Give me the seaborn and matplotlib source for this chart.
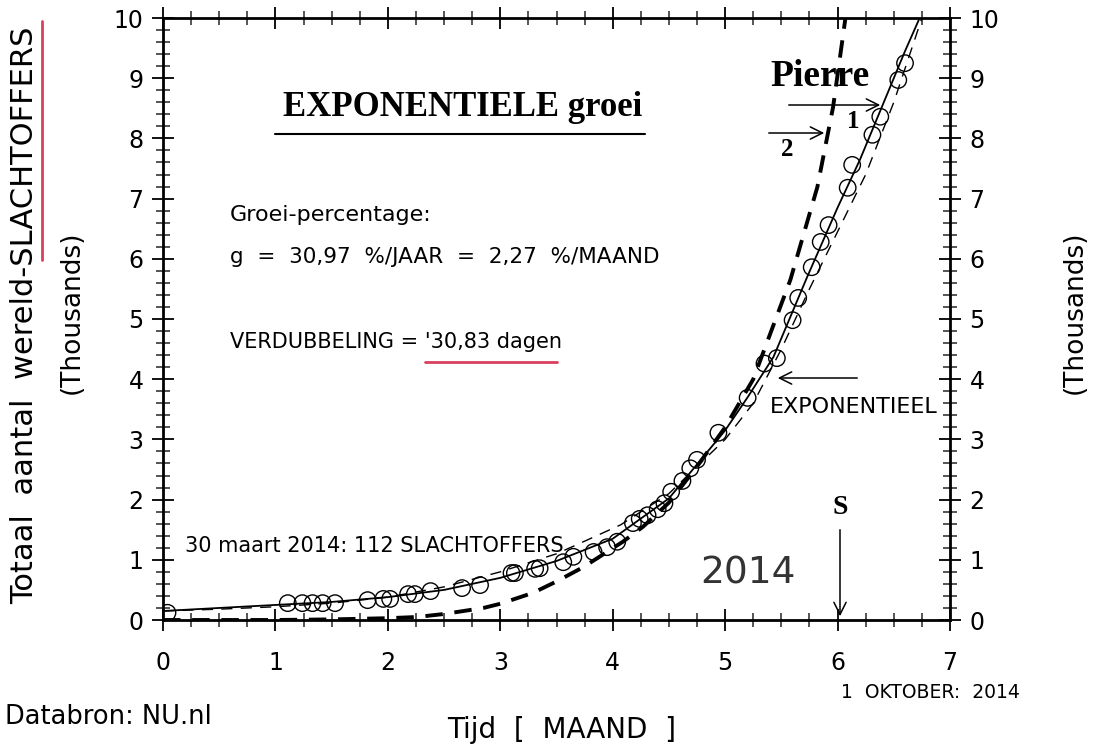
import numpy as np
import pandas as pd
import matplotlib
matplotlib.use("Agg")
import matplotlib.pyplot as plt
import seaborn as sns
from matplotlib.ticker import MultipleLocator

# ---------------- data ----------------
obs_month = [0.04, 1.11, 1.24, 1.33, 1.42, 1.53, 1.82, 1.96, 2.02, 2.18, 2.24, 2.38,
             2.66, 2.82, 3.10, 3.13, 3.31, 3.35, 3.56, 3.65, 3.83, 3.95, 4.04, 4.18,
             4.24, 4.31, 4.40, 4.46, 4.52, 4.62, 4.69, 4.75, 4.94, 5.20, 5.35, 5.46,
             5.60, 5.65, 5.77, 5.85, 5.92, 6.09, 6.13, 6.31, 6.38, 6.54, 6.60]
obs_victims = [0.12, 0.28, 0.28, 0.28, 0.28, 0.28, 0.33, 0.35, 0.35, 0.43, 0.43, 0.48,
               0.53, 0.58, 0.78, 0.78, 0.85, 0.86, 0.96, 1.05, 1.13, 1.21, 1.30, 1.61,
               1.68, 1.74, 1.84, 1.94, 2.13, 2.31, 2.52, 2.66, 3.11, 3.69, 4.26, 4.35,
               4.98, 5.35, 5.86, 6.28, 6.56, 7.18, 7.56, 8.06, 8.36, 8.97, 9.25]

fit_month = [0.0, 0.5, 1.0, 1.5, 2.0, 2.5, 3.0, 3.5, 4.0, 4.5, 5.0, 5.2, 5.43, 5.73,
             6.0, 6.2, 6.4, 6.6, 6.73]
fit_victims = [0.15, 0.20, 0.25, 0.30, 0.38, 0.50, 0.70, 0.98, 1.35, 2.02, 3.15, 3.70,
               4.37, 5.70, 6.85, 7.65, 8.55, 9.45, 10.0]

model1_month = [0.0, 0.5, 1.0, 1.5, 2.0, 2.5, 3.0, 3.5, 3.68, 4.07, 4.5, 5.0, 5.25,
                5.5, 5.75, 6.0, 6.25, 6.5, 6.75]
model1_victims = [0.15, 0.18, 0.22, 0.28, 0.38, 0.55, 0.80, 1.10, 1.25, 1.58, 2.10,
                  3.00, 3.60, 4.50, 5.50, 6.45, 7.40, 8.60, 10.0]

model2_month = [0.0, 0.5, 1.0, 1.5, 2.0, 2.26, 2.5, 2.85, 3.0, 3.29, 3.5, 3.74, 4.09,
                4.27, 4.5, 4.75, 5.0, 5.25, 5.58, 5.82, 5.96, 6.07]
model2_victims = [0.0, 0.0, 0.0, 0.01, 0.03, 0.05, 0.10, 0.20, 0.27, 0.45, 0.64, 0.88,
                  1.30, 1.55, 1.95, 2.55, 3.20, 4.00, 5.65, 7.19, 8.52, 10.0]

x_ticks = [0, 1, 2, 3, 4, 5, 6, 7]
y_ticks = [0, 1, 2, 3, 4, 5, 6, 7, 8, 9, 10]

obs = pd.DataFrame({"maand": obs_month, "slachtoffers": obs_victims})
fit = pd.DataFrame({"maand": fit_month, "slachtoffers": fit_victims})
m1 = pd.DataFrame({"maand": model1_month, "slachtoffers": model1_victims})
m2 = pd.DataFrame({"maand": model2_month, "slachtoffers": model2_victims})

# ---------------- figure ----------------
sns.set_theme(style="white")
plt.rcParams["font.family"] = ["DejaVu Sans"]
plt.rcParams["text.color"] = "black"
W, H = 1093, 749
fig = plt.figure(figsize=(W / 100, H / 100), dpi=100)
ax = fig.add_axes([163 / W, 1 - 620 / H, (950 - 163) / W, (620 - 18) / H])
fx = lambda p: p / W
fy = lambda p: 1 - p / H

sns.lineplot(data=m2, x="maand", y="slachtoffers", ax=ax, color="black", lw=2.8,
             sort=False, estimator=None, linestyle=(0, (4.5, 3)))
sns.lineplot(data=m1, x="maand", y="slachtoffers", ax=ax, color="black", lw=1.0,
             sort=False, estimator=None, linestyle=(0, (8, 6)))
sns.lineplot(data=fit, x="maand", y="slachtoffers", ax=ax, color="black", lw=1.3,
             sort=False, estimator=None)
sns.scatterplot(data=obs, x="maand", y="slachtoffers", ax=ax, marker="o", s=140,
                facecolor="none", edgecolor="black", linewidth=1.0, zorder=5)

ax.set_xlim(0, 7)
ax.set_ylim(0, 10)
ax.set_xticks(x_ticks)
ax.set_yticks(y_ticks)
ax.xaxis.set_minor_locator(MultipleLocator(0.25))
ax.yaxis.set_minor_locator(MultipleLocator(0.2))
for s in ax.spines.values():
    s.set_linewidth(2.0)
    s.set_color("black")
ax.tick_params(which="major", direction="inout", length=16, width=1.3,
               top=True, right=True, bottom=True, left=True,
               labelright=True, labelsize=17, colors="black")
ax.tick_params(which="minor", direction="inout", length=10, width=1.1,
               top=True, right=True, bottom=True, left=True)
ax.tick_params(axis="x", which="major", pad=14)
ax.tick_params(axis="y", which="major", pad=6)
ax.set_xlabel("")
ax.set_ylabel("")

# ---------------- texts ----------------
serif = ["Liberation Serif", "DejaVu Serif"]
fig.text(fx(283), fy(107), "EXPONENTIELE groei", fontsize=25, fontweight="bold",
         family=serif, ha="left", va="center")
fig.add_artist(plt.Line2D([fx(275), fx(645)], [fy(134), fy(134)], color="black", lw=1.5))
fig.text(fx(230), fy(215), "Groei-percentage:", fontsize=16, ha="left", va="center")
fig.text(fx(230), fy(257), "g  =  30,97  %/JAAR  =  2,27  %/MAAND", fontsize=15.5,
         ha="left", va="center")
fig.text(fx(230), fy(342), "VERDUBBELING = '30,83 dagen", fontsize=15,
         ha="left", va="center")
fig.add_artist(plt.Line2D([fx(425), fx(557)], [fy(362), fy(362)], color="#d8405e", lw=2))
fig.text(fx(185), fy(546), "30 maart 2014: 112 SLACHTOFFERS", fontsize=15,
         ha="left", va="center")
fig.text(fx(700), fy(573), "2014", fontsize=27, ha="left", va="center", color="#333333")
fig.text(fx(770), fy(407), "EXPONENTIEEL", fontsize=16, ha="left", va="center")
fig.text(fx(770), fy(77), "Pierre", fontsize=27, fontweight="bold", family=serif,
         ha="left", va="center")
fig.text(fx(853), fy(122), "1", fontsize=18, fontweight="bold", family=serif,
         ha="center", va="center")
fig.text(fx(787), fy(150), "2", fontsize=18, fontweight="bold", family=serif,
         ha="center", va="center")
fig.text(fx(840), fy(508), "S", fontsize=20, fontweight="bold", family=serif,
         ha="center", va="center")

arrow = dict(arrowstyle="->", color="black", lw=1.1, mutation_scale=22)
for (x0, y0, x1, y1) in [(786, 105, 883, 105), (766, 133, 827, 133),
                         (860, 378, 775, 378), (840, 527, 840, 619)]:
    fig.add_artist(matplotlib.patches.FancyArrowPatch((fx(x0), fy(y0)), (fx(x1), fy(y1)),
                                                      transform=fig.transFigure, **arrow))

fig.text(fx(25), fy(315), "Totaal  aantal  wereld-SLACHTOFFERS", fontsize=22,
         rotation=90, ha="center", va="center")
fig.text(fx(72), fy(312), "(Thousands)", fontsize=19, rotation=90, ha="center",
         va="center")
fig.add_artist(plt.Line2D([fx(42), fx(42)], [fy(21), fy(260)], color="#d8405e", lw=2))
fig.text(fx(1075), fy(312), "(Thousands)", fontsize=19, rotation=90, ha="center",
         va="center")
fig.text(fx(562), fy(730), "Tijd  [  MAAND  ]", fontsize=20, ha="center", va="center")
fig.text(fx(5), fy(717), "Databron: NU.nl", fontsize=18.5, ha="left", va="center")
fig.text(fx(1020), fy(693), "1  OKTOBER:  2014", fontsize=13.5, ha="right", va="center")

fig.savefig("out.png", dpi=100, facecolor="white")
